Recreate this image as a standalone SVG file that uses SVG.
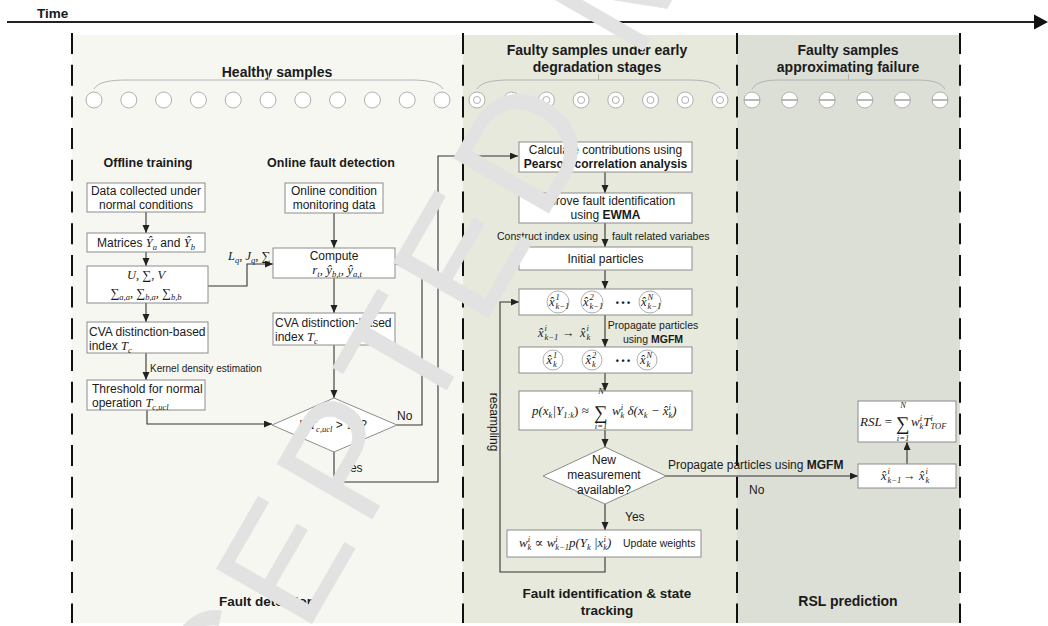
<svg xmlns="http://www.w3.org/2000/svg" width="1048" height="626" viewBox="0 0 1048 626">
<defs>
<marker id="ah" markerUnits="userSpaceOnUse" markerWidth="9" markerHeight="8" refX="8" refY="3.5" orient="auto"><path d="M0,0 L8,3.5 L0,7 z" fill="#222"/></marker>
<style>
.t{font-family:"Liberation Sans",Arial,sans-serif;font-size:12px;fill:#1a1a1a}
.b{font-weight:bold}
.s10{font-size:10px}
.s105{font-size:10.5px}
.m{font-family:"Liberation Serif","DejaVu Serif",serif;font-style:italic;font-size:12.5px;fill:#1a1a1a}
.m13{font-size:13px}
.sm{font-size:8.5px}
.big{font-family:"Liberation Serif","DejaVu Serif",serif;font-size:19px;fill:#1a1a1a}
.box{fill:#fff;stroke:#8c8c8c;stroke-width:1}
.ln{fill:none;stroke:#333;stroke-width:1.1}
.arr{marker-end:url(#ah)}
.brace{fill:none;stroke:#b4b4b4;stroke-width:1}
.c{fill:#fff;stroke:#b0b0b0;stroke-width:1}
.dash{stroke:#111;stroke-width:2;stroke-dasharray:21 10.7}
.wm{font-family:"Liberation Sans",Arial,sans-serif;font-size:160px;letter-spacing:14px;fill:#e2e2e2;stroke:#e2e2e2;stroke-width:0.5}
</style>
</defs>
<rect width="1048" height="626" fill="#fff"/>
<g id="timeline">
<text class="t b" x="37" y="18" style="font-size:13.5px">Time</text>
<line x1="7" y1="22" x2="1036" y2="22" stroke="#222" stroke-width="2"/>
<path d="M1034,14.5 L1048,22 L1034,29.5 z" fill="#111"/>
</g>
<g id="panels">
<rect x="72" y="35" width="391" height="588" fill="#f7f7f2"/>
<rect x="463" y="35" width="274" height="588" fill="#e6e9dc"/>
<rect x="737" y="35" width="223" height="588" fill="#dcdfd5"/>
<line class="dash" x1="72" y1="33" x2="72" y2="623"/>
<line class="dash" x1="463" y1="33" x2="463" y2="623"/>
<line class="dash" x1="737" y1="33" x2="737" y2="623"/>
<line class="dash" x1="960" y1="33" x2="960" y2="623"/>
</g>
<g id="healthy-samples">
<text class="t b" x="277" y="77" text-anchor="middle" style="font-size:14px">Healthy samples</text>
<path class="brace" d="M94,89 C98,82 110,80 127,80 L410,80 C427,80 439,82 443,89 M268.5,80 L268.5,74"/>
<circle class="c" cx="94" cy="100" r="8"/><circle class="c" cx="128.8" cy="100" r="8"/><circle class="c" cx="163.6" cy="100" r="8"/><circle class="c" cx="198.4" cy="100" r="8"/><circle class="c" cx="233.2" cy="100" r="8"/><circle class="c" cx="268" cy="100" r="8"/><circle class="c" cx="302.8" cy="100" r="8"/><circle class="c" cx="337.6" cy="100" r="8"/><circle class="c" cx="372.4" cy="100" r="8"/><circle class="c" cx="407.2" cy="100" r="8"/><circle class="c" cx="442" cy="100" r="8"/>
</g>
<g id="early-samples">
<text class="t b" x="597" y="55" text-anchor="middle" style="font-size:14px">Faulty samples under early</text>
<text class="t b" x="597" y="72" text-anchor="middle" style="font-size:14px">degradation stages</text>
<path class="brace" d="M477,89 C481,82 493,80 510,80 L687,80 C704,80 716,82 720,89 M598.5,80 L598.5,74"/>
<g>
<circle class="c" cx="477" cy="100" r="8"/><circle class="c" cx="477" cy="100" r="3.5"/>
<circle class="c" cx="511.7" cy="100" r="8"/><circle class="c" cx="511.7" cy="100" r="3.5"/>
<circle class="c" cx="546.4" cy="100" r="8"/><circle class="c" cx="546.4" cy="100" r="3.5"/>
<circle class="c" cx="581.1" cy="100" r="8"/><circle class="c" cx="581.1" cy="100" r="3.5"/>
<circle class="c" cx="615.8" cy="100" r="8"/><circle class="c" cx="615.8" cy="100" r="3.5"/>
<circle class="c" cx="650.5" cy="100" r="8"/><circle class="c" cx="650.5" cy="100" r="3.5"/>
<circle class="c" cx="685.2" cy="100" r="8"/><circle class="c" cx="685.2" cy="100" r="3.5"/>
<circle class="c" cx="720" cy="100" r="8"/><circle class="c" cx="720" cy="100" r="3.5"/>
</g>
</g>
<g id="failure-samples">
<text class="t b" x="848" y="55" text-anchor="middle" style="font-size:14px">Faulty samples</text>
<text class="t b" x="848" y="72" text-anchor="middle" style="font-size:14px">approximating failure</text>
<path class="brace" d="M752,89 C756,82 766,80 780,80 L917,80 C931,80 941,82 945,89 M848.5,80 L848.5,74"/>
<g>
<circle class="c" cx="752" cy="100" r="8"/><line x1="744" y1="100" x2="760" y2="100" stroke="#a8a8a8" stroke-width="1.6"/>
<circle class="c" cx="789.6" cy="100" r="8"/><line x1="781.6" y1="100" x2="797.6" y2="100" stroke="#a8a8a8" stroke-width="1.6"/>
<circle class="c" cx="827.2" cy="100" r="8"/><line x1="819.2" y1="100" x2="835.2" y2="100" stroke="#a8a8a8" stroke-width="1.6"/>
<circle class="c" cx="864.8" cy="100" r="8"/><line x1="856.8" y1="100" x2="872.8" y2="100" stroke="#a8a8a8" stroke-width="1.6"/>
<circle class="c" cx="902.4" cy="100" r="8"/><line x1="894.4" y1="100" x2="910.4" y2="100" stroke="#a8a8a8" stroke-width="1.6"/>
<circle class="c" cx="940" cy="100" r="8"/><line x1="932" y1="100" x2="948" y2="100" stroke="#a8a8a8" stroke-width="1.6"/>
</g>
</g>
<g id="connectors">
<line class="ln arr" x1="146" y1="212" x2="146" y2="233"/>
<line class="ln arr" x1="146" y1="252" x2="146" y2="266"/>
<line class="ln arr" x1="146" y1="303" x2="146" y2="322"/>
<line class="ln arr" x1="146" y1="353" x2="146" y2="380"/>
<path class="ln arr" d="M208,286 L247,286 L247,264 L273,264"/>
<path class="ln arr" d="M147,410 L147,424 L272,424"/>
<line class="ln arr" x1="334" y1="213" x2="334" y2="248"/>
<line class="ln arr" x1="334" y1="278" x2="334" y2="313"/>
<line class="ln arr" x1="334" y1="345" x2="334" y2="398"/>
<path class="ln arr" d="M397,425 L422,425 L422,264 L395,264"/>
<path class="ln arr" d="M334,452 L334,482 L438,482 L438,156 L518,156"/>
<line class="ln arr" x1="605" y1="172" x2="605" y2="193"/>
<line class="ln arr" x1="605" y1="223" x2="605" y2="247"/>
<line class="ln arr" x1="605" y1="270" x2="605" y2="289"/>
<line class="ln arr" x1="605" y1="315" x2="605" y2="347"/>
<line class="ln arr" x1="605" y1="373" x2="605" y2="391"/>
<line class="ln arr" x1="605" y1="430" x2="605" y2="447"/>
<line class="ln arr" x1="605" y1="504" x2="605" y2="530"/>
<path class="ln arr" d="M605,557 L605,572 L500,572 L500,302 L519,302"/>
<line class="ln arr" x1="665" y1="476" x2="858" y2="476"/>
<line class="ln arr" x1="907" y1="464" x2="907" y2="442"/>
</g>
<g id="connector-labels">
<text class="m" x="228" y="260">L<tspan class="sm" dy="3">q</tspan><tspan dy="-3">, J</tspan><tspan class="sm" dy="3">q</tspan><tspan dy="-3">, ∑</tspan></text>
<text class="t s10" x="150" y="372">Kernel density estimation</text>
<text class="t" x="397" y="420">No</text>
<text class="t" x="343" y="472">Yes</text>
<text class="t s105" x="598" y="240" text-anchor="end">Construct index using</text>
<text class="t s105" x="612" y="240">fault related variabes</text>
<text class="m" x="538" y="337">x̂<tspan class="sm" x="544.5" y="331">i</tspan><tspan class="sm" x="544.5" y="340">k−1</tspan><tspan x="562" y="337" style="font-style:normal">→</tspan><tspan x="580" y="337">x̂</tspan><tspan class="sm" x="586.5" y="331">i</tspan><tspan class="sm" x="586.5" y="340">k</tspan></text>
<text class="t s105" x="653" y="329" text-anchor="middle">Propagate particles</text>
<text class="t s105" x="653" y="343" text-anchor="middle">using <tspan class="b">MGFM</tspan></text>
<text class="t" x="625" y="521">Yes</text>
<text class="t" x="668" y="469">Propagate particles using <tspan class="b">MGFM</tspan></text>
<text class="t" x="749" y="494">No</text>
<text class="t" x="490" y="422" text-anchor="middle" transform="rotate(90 490 422)">resampling</text>
</g>
<g id="offline-training">
<text class="t b" x="148" y="167" text-anchor="middle" style="font-size:12.5px">Offline training</text>
</g>
<g id="online-fault-detection">
<text class="t b" x="331" y="167" text-anchor="middle" style="font-size:12.5px">Online fault detection</text>
</g>
<g id="data-collected">
<rect class="box" x="87" y="183" width="118" height="29"/>
<text class="t" x="146" y="195" text-anchor="middle">Data collected under</text>
<text class="t" x="146" y="209" text-anchor="middle">normal conditions</text>
</g>
<g id="matrices">
<rect class="box" x="87" y="233" width="118" height="19"/>
<text class="t" x="146" y="247" text-anchor="middle">Matrices <tspan class="m">Ŷ</tspan><tspan class="m sm" dy="3">a</tspan><tspan dy="-3"> and </tspan><tspan class="m">Ŷ</tspan><tspan class="m sm" dy="3">b</tspan></text>
</g>
<g id="svd">
<rect class="box" x="87" y="266" width="121" height="37"/>
<text class="m" x="146" y="279" text-anchor="middle">U, ∑, V</text>
<text class="m" x="146" y="297" text-anchor="middle">∑<tspan class="sm" dy="3">a,a</tspan><tspan dy="-3">, ∑</tspan><tspan class="sm" dy="3">b,a</tspan><tspan dy="-3">, ∑</tspan><tspan class="sm" dy="3">b,b</tspan></text>
</g>
<g id="cva-index-offline">
<rect class="box" x="87" y="322" width="121" height="31"/>
<text class="t" x="89" y="336">CVA distinction-based</text>
<text class="t" x="89" y="350">index <tspan class="m">T</tspan><tspan class="m sm" dy="3">c</tspan></text>
</g>
<g id="threshold">
<rect class="box" x="87" y="380" width="118" height="30"/>
<text class="t" x="92" y="393">Threshold for normal</text>
<text class="t" x="92" y="407">operation <tspan class="m">T</tspan><tspan class="m sm" dy="3">c,ucl</tspan></text>
</g>
<g id="online-data">
<rect class="box" x="285" y="183" width="98" height="30"/>
<text class="t" x="334" y="195" text-anchor="middle">Online condition</text>
<text class="t" x="334" y="209" text-anchor="middle">monitoring data</text>
</g>
<g id="compute">
<rect class="box" x="273" y="248" width="122" height="30"/>
<text class="t" x="334" y="260" text-anchor="middle">Compute</text>
<text class="m m13" x="337" y="274" text-anchor="middle">r<tspan class="sm" dy="3">t</tspan><tspan dy="-3">, ŷ</tspan><tspan class="sm" dy="3">b,t</tspan><tspan dy="-3">, ŷ</tspan><tspan class="sm" dy="3">a,t</tspan></text>
</g>
<g id="cva-index-online">
<rect class="box" x="273" y="313" width="122" height="32"/>
<text class="t" x="275" y="327">CVA distinction-based</text>
<text class="t" x="275" y="341">index <tspan class="m">T</tspan><tspan class="m sm" dy="3">c</tspan></text>
</g>
<g id="decision-threshold">
<path class="box" d="M272,425 L334,398 L397,425 L334,452 z"/>
<text class="t" x="333" y="429" text-anchor="middle">If <tspan class="m">T</tspan><tspan class="m sm" dy="3">c,ucl</tspan><tspan dy="-3"> &gt; </tspan><tspan class="m">T</tspan><tspan class="m sm" dy="3">c</tspan><tspan dy="-3"> ?</tspan></text>
</g>
<g id="fault-detection-label">
<text class="t b" x="267" y="606" text-anchor="middle" style="font-size:13.5px">Fault detection</text>
</g>
<g id="pearson">
<rect class="box" x="519" y="142" width="173" height="30"/>
<text class="t" x="605.5" y="154" text-anchor="middle">Calculate contributions using</text>
<text class="t b" x="605.5" y="168" text-anchor="middle">Pearson correlation analysis</text>
</g>
<g id="ewma">
<rect class="box" x="519" y="193" width="173" height="30"/>
<text class="t" x="605.5" y="205" text-anchor="middle">Improve fault identification</text>
<text class="t" x="605.5" y="219" text-anchor="middle">using <tspan class="b">EWMA</tspan></text>
</g>
<g id="initial-particles">
<rect class="box" x="519" y="247" width="173" height="23"/>
<text class="t" x="605.5" y="263" text-anchor="middle">Initial particles</text>
</g>
<g id="particles-prev">
<rect class="box" x="519" y="289" width="173" height="26"/>
<circle class="c" cx="558" cy="302" r="11"/><circle class="c" cx="592" cy="302" r="11"/><circle class="c" cx="650" cy="302" r="11"/>
<text class="m" x="549" y="306">x̂<tspan class="sm" x="555.5" y="300">1</tspan><tspan class="sm" x="555.5" y="309">k−1</tspan></text>
<text class="m" x="583" y="306">x̂<tspan class="sm" x="589.5" y="300">2</tspan><tspan class="sm" x="589.5" y="309">k−1</tspan></text>
<text class="t b" x="623" y="306" text-anchor="middle" style="font-size:9px">• • •</text>
<text class="m" x="641" y="306">x̂<tspan class="sm" x="647.5" y="300">N</tspan><tspan class="sm" x="647.5" y="309">k−1</tspan></text>
</g>
<g id="particles-now">
<rect class="box" x="519" y="347" width="173" height="26"/>
<circle class="c" cx="553" cy="360" r="10"/><circle class="c" cx="592" cy="360" r="10"/><circle class="c" cx="647" cy="360" r="10"/>
<text class="m" x="546.5" y="364">x̂<tspan class="sm" x="553" y="358">1</tspan><tspan class="sm" x="553" y="367">k</tspan></text>
<text class="m" x="585.5" y="364">x̂<tspan class="sm" x="592" y="358">2</tspan><tspan class="sm" x="592" y="367">k</tspan></text>
<text class="t b" x="623" y="364" text-anchor="middle" style="font-size:9px">• • •</text>
<text class="m" x="640" y="364">x̂<tspan class="sm" x="646.5" y="358">N</tspan><tspan class="sm" x="646.5" y="367">k</tspan></text>
</g>
<g id="posterior">
<rect class="box" x="519" y="391" width="173" height="39"/>
<text class="m m13" x="532" y="415">p(x<tspan class="sm" dy="3">k</tspan><tspan dy="-3">|Y</tspan><tspan class="sm" dy="3">1:k</tspan><tspan dy="-3" style="font-style:normal">) ≈</tspan></text>
<text class="big" x="594" y="419">∑</text>
<text class="m sm" x="601" y="394" text-anchor="middle">N</text>
<text class="m sm" x="601" y="429" text-anchor="middle">i=1</text>
<text class="m m13" x="612" y="415">w<tspan class="sm" dy="-5">i</tspan><tspan class="sm" dx="-2.5" dy="8">k</tspan><tspan dy="-3"> δ(x</tspan><tspan class="sm" dy="3">k</tspan><tspan dy="-3"> − x̂</tspan><tspan class="sm" dy="-5">i</tspan><tspan class="sm" dx="-2.5" dy="8">k</tspan><tspan dy="-3">)</tspan></text>
</g>
<g id="decision-measurement">
<path class="box" d="M543,476 L605,447 L666,476 L605,504 z"/>
<text class="t" x="604" y="464" text-anchor="middle">New</text>
<text class="t" x="604" y="479" text-anchor="middle">measurement</text>
<text class="t" x="604" y="494" text-anchor="middle">available?</text>
</g>
<g id="update-weights">
<rect class="box" x="507" y="530" width="194" height="27"/>
<text class="m m13" x="519" y="547">w<tspan class="sm" dy="-5">i</tspan><tspan class="sm" dx="-2.5" dy="8">k</tspan><tspan dy="-3" style="font-style:normal"> ∝ </tspan><tspan>w</tspan><tspan class="sm" dy="-5">i</tspan><tspan class="sm" dx="-2.5" dy="8">k−1</tspan><tspan dy="-3">p(Y</tspan><tspan class="sm" dy="3">k</tspan><tspan dy="-3"> |x</tspan><tspan class="sm" dy="-5">i</tspan><tspan class="sm" dx="-2.5" dy="8">k</tspan><tspan dy="-3">)</tspan></text>
<text class="t s105" x="623" y="547">Update weights</text>
</g>
<g id="fault-identification-label">
<text class="t b" x="607" y="598" text-anchor="middle" style="font-size:13.5px">Fault identification &amp; state</text>
<text class="t b" x="607" y="615" text-anchor="middle" style="font-size:13.5px">tracking</text>
</g>
<g id="propagate-rsl">
<rect class="box" x="858" y="464" width="98" height="24"/>
<text class="m" x="881" y="480">x̂<tspan class="sm" x="887.5" y="474">i</tspan><tspan class="sm" x="887.5" y="483">k−1</tspan><tspan x="903" y="480" style="font-style:normal">→</tspan><tspan x="919" y="480">x̂</tspan><tspan class="sm" x="925.5" y="474">i</tspan><tspan class="sm" x="925.5" y="483">k</tspan></text>
</g>
<g id="rsl">
<rect class="box" x="858" y="401" width="98" height="41"/>
<text class="m m13" x="860" y="426">RSL <tspan style="font-style:normal">=</tspan></text>
<text class="big" x="896" y="430">∑</text>
<text class="m sm" x="903" y="408" text-anchor="middle">N</text>
<text class="m sm" x="903" y="441" text-anchor="middle">i=1</text>
<text class="m m13" x="911" y="426">w<tspan class="sm" dy="-5">i</tspan><tspan class="sm" dx="-2.5" dy="8">k</tspan><tspan dy="-3">T</tspan><tspan class="sm" dy="-5">i</tspan><tspan class="sm" dx="-2.5" dy="8">TOF</tspan></text>
</g>
<g id="rsl-label">
<text class="t b" x="848" y="606" text-anchor="middle" style="font-size:14px">RSL prediction</text>
</g>
<g id="watermark">
<text class="wm" x="115.4" y="963.8" transform="rotate(-60 115.4 963.8)">ACCEPTED MANUSCRIPT</text>
</g>
</svg>
